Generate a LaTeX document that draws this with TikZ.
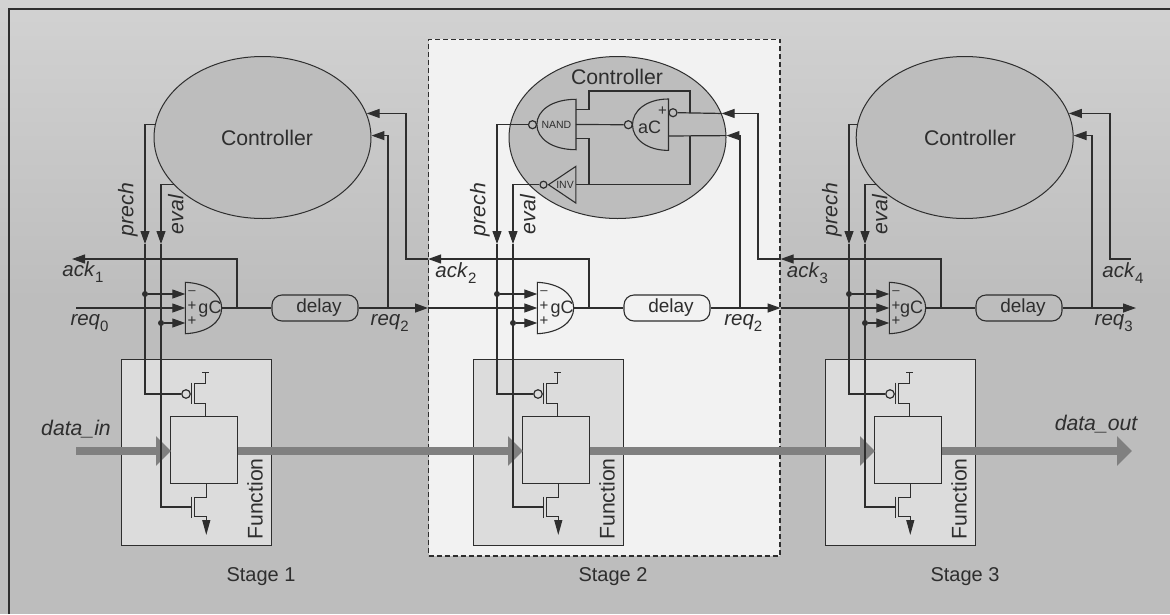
\documentclass[tikz,border=0pt]{standalone}
\usepackage{fontspec}
\setmainfont{Liberation Sans}
\usepackage{xcolor}
\usetikzlibrary{arrows.meta, shapes.geometric}
\definecolor{custom_ink}{HTML}{2E2E2E}
\definecolor{custom_back}{HTML}{BDBDBD}
\definecolor{custom_top}{HTML}{D2D2D2}
\definecolor{custom_panel}{HTML}{F2F2F2}
\definecolor{custom_func}{HTML}{DCDCDC}
\definecolor{custom_bus}{HTML}{808080}
\newcommand{\sigsub}[2]{{\fontsize{20.5}{20.5}\selectfont\textit{#1}}\raisebox{-0.3em}{\fontsize{15}{15}\selectfont #2}}
\tikzset{
  wire/.style={draw=custom_ink, line width=1.2pt},
  arrowwire/.style={wire, -{Triangle[length=13pt,width=9pt]}},
  controller/.style={ellipse, draw=custom_ink, line width=1pt, fill=custom_back, inner sep=0pt, minimum width=217pt, minimum height=162pt},
  sigtext/.style={font=\fontsize{21.2}{21.2}\selectfont, text=custom_ink, inner sep=0pt},
  smalltext/.style={font=\fontsize{10.5}{11}\selectfont, text=custom_ink, inner sep=0pt},
  delaybox/.style={wire, line width=1.1pt, rounded corners=10pt, minimum width=86pt, minimum height=26pt, inner sep=0pt, font=\fontsize{19}{19}\selectfont, text=custom_ink},
  funcbox/.style={wire, line width=1.1pt, fill=custom_func, inner sep=0pt},
  hollow/.style={circle, wire, inner sep=0pt, minimum size=8pt},
  dotnode/.style={circle, fill=custom_ink, inner sep=0pt, minimum size=6pt},
  gatebox/.style={inner sep=0pt, minimum width=36pt, minimum height=51pt},
  bus/.style={draw=custom_bus, line width=8pt, -{Triangle[length=15pt,width=29pt]}, custom_bus}
}
\begin{document}
\begin{tikzpicture}[x=1pt, y=-1pt]
    \useasboundingbox (0,0) rectangle (1170,614);

    % Draw background and frame
    \shade[top color=custom_top, bottom color=custom_back] (0,0) rectangle (1170,300);
    \fill[custom_back] (0,300) rectangle (1170,614);
    \draw[custom_ink, line width=2pt] (9,614) -- (9,9) -- (1170,9);
    \node[draw=custom_ink, fill=custom_panel, line width=1.2pt, dash pattern=on 5pt off 3pt, inner sep=0pt, minimum width=351.3pt, minimum height=516.7pt] (panel) at (604.35,297.65) {};

    % Draw the parts every stage has
    \foreach \n/\dx/\gx/\cx in {1/0/24.5/262.5, 2/352/24.5/265.5, 3/704/22/260.7}{
      \begin{scope}[xshift=\dx pt]
        \node[funcbox, minimum width=149.6pt, minimum height=185.7pt] (fn\n) at (196.5,452.2) {};
        \node[funcbox, minimum width=67pt, minimum height=67.3pt] (core\n) at (204.2,449.7) {};
        \node[sigtext, rotate=90] (fnlabel\n) at (255,499) {Function};
        \node[sigtext, font=\fontsize{20}{20}\selectfont] (stage\n) at (261,577) {Stage \n};
        \node[controller] (ctrl\n) at (\cx,137.5) {};
        \node[gatebox] (gate\n) at (203.5,308) {};
        \draw[wire, line width=1.1pt] (gate\n.north west) .. controls +(22,1) and +(0,-14) .. (gate\n.east) .. controls +(0,14) and +(22,-1) .. (gate\n.south west) -- cycle;
        \node[smalltext, font=\fontsize{18}{18}\selectfont] (gatetext\n) at (185.5+\gx,309) {gC};
        \node[smalltext, font=\fontsize{13}{13}\selectfont] (minus\n) at (192,293) {--};
        \node[smalltext, font=\fontsize{15}{15}\selectfont] (plusa\n) at (192,306) {+};
        \node[smalltext, font=\fontsize{15}{15}\selectfont] (plusb\n) at (192,321) {+};
        \node[delaybox] (delay\n) at (315,308) {\hspace*{8pt}delay};
        \node[sigtext, rotate=90] (prechlabel\n) at (128,209.7) {\itshape prech};
        \node[sigtext, rotate=90] (evallabel\n) at (175.7,214.7) {\itshape eval};
        \node[dotnode] (dota\n) at (145,294) {};
        \node[dotnode] (dotb\n) at (161,323) {};
        \node[hollow, minimum size=8.5pt] (pbub\n) at (186,394) {};
        \coordinate (prechtip\n) at (145,244);
        \coordinate (evaltip\n) at (161,244);
        \coordinate (ackbr\n) at (237,308);
        \coordinate (branch\n) at (388,308);
        \coordinate (ackturn\n) at (406,259);
        \coordinate (busin\n) at (171,451);
        \coordinate (busout\n) at (237.7,451);
        \coordinate (nin\n) at (191.7,507);

        % Transistors above and below the function block
        \draw[wire, line width=1.1pt] (pbub\n.east) -- (191.3,394);
        \draw[wire, line width=1.1pt] (191.3,382.7) -- (191.3,404);
        \draw[wire, line width=1.1pt] (202,372.3) -- (209,372.3);
        \draw[wire, line width=1.1pt] (205.7,372.3) -- (205.7,383.7) -- (194.7,383.7) -- (194.7,403.5) -- (205.7,403.5) -- (205.7,416);
        \draw[wire, line width=1.1pt] (206.3,483.3) -- (206.3,497.3) -- (194.7,497.3) -- (194.7,516.7) -- (206.3,516.7) -- (206.3,520);
        \draw[wire, line width=1.1pt] (191.7,496.7) -- (191.7,517.7);
        \draw[wire, line width=1.1pt, -{Triangle[length=15pt,width=8pt]}] (206.3,520) -- (206.3,535);
      \end{scope}
    }

    % Draw the data path
    \coordinate (datain) at (76,451);
    \coordinate (dataout) at (1132,451);
    \draw[bus] (datain) -- (busin1);
    \draw[bus] (busout1) -- (busin2);
    \draw[bus] (busout2) -- (busin3);
    \draw[bus] (busout3) -- (dataout);

    % Draw gates inside the middle controller
    \node[sigtext] (ctrllabel2) at (617,77) {Controller};
    \node[sigtext] (ctrllabel1) at (267,137.5) {Controller};
    \node[sigtext] (ctrllabel3) at (970,137.5) {Controller};
    \node[gatebox, minimum width=38.7pt, minimum height=50pt, smalltext] (nand) at (556.4,124.5) {NAND};
    \draw[wire, line width=1.1pt] (nand.north east) .. controls +(-24,0) and +(0,-14) .. (nand.west) .. controls +(0,14) and +(-24,0) .. (nand.south east) -- cycle;
    \node[hollow] (nandbub) at (532.5,124.7) {};
    \node[gatebox, minimum width=35.6pt, minimum height=51pt] (aC) at (650.5,124.7) {};
    \draw[wire, line width=1.1pt] (aC.north east) .. controls +(-22,0) and +(0,-14) .. (aC.west) .. controls +(0,14) and +(-22,0) .. (aC.south east) -- cycle;
    \node[sigtext, font=\fontsize{18}{18}\selectfont] (aCtext) at (649.5,127.5) {aC};
    \node[smalltext, font=\fontsize{15}{15}\selectfont] (aCplus) at (662.5,111.5) {+};
    \node[hollow] (aCin) at (628.3,124.7) {};
    \node[hollow] (aCout) at (673,112.7) {};
    \node[inner sep=0pt, minimum width=27pt, minimum height=36.3pt] (inv) at (562.2,184.7) {};
    \draw[wire, line width=1.1pt] (inv.west) -- (inv.north east) -- (inv.south east) -- cycle;
    \node[smalltext] (invtext) at (565,185) {INV};
    \node[hollow, minimum size=7pt] (invbub) at (543.5,184.7) {};

    % Wire the gates together
    \coordinate (nandhi) at (575.7,109.3);
    \coordinate (nandlo) at (575.7,138.3);
    \coordinate (aCjoin) at (690,112.7);
    \coordinate (aClow) at (668.3,136);
    \coordinate (aCjoinb) at (690,136);
    \coordinate (invjoin) at (690,184.7);
    \draw[wire] (nand.east) -- (aCin.west);
    \draw[wire] (nandhi) -- (589,109.3) -- (589,91) -- (690,91) -- (aCjoin);
    \draw[wire] (nandlo) -- (589,138.3) -- (589,184.7);
    \draw[wire] (aCjoinb) -- (invjoin) -- (inv.east);
    \draw[wire] (aCout.east) -- (ctrl2.13.6);
    \draw[wire] (aClow) -- (ctrl2.1);

    % Connect the controllers to the gates and transistors
    \coordinate (prechsrc1) at (ctrl1.173);
    \coordinate (prechsrc2) at (nandbub.west);
    \coordinate (prechsrc3) at (ctrl3.173);
    \coordinate (evalsrc1) at (ctrl1.208.2);
    \coordinate (evalsrc2) at (invbub.west);
    \coordinate (evalsrc3) at (ctrl3.208.2);
    \foreach \n in {1,2,3}{
      \draw[arrowwire] (prechsrc\n) -| (prechtip\n);
      \draw[arrowwire] (evalsrc\n) -| (evaltip\n);
      \draw[wire] (prechtip\n) |- (pbub\n.west);
      \draw[wire] (evaltip\n) |- (nin\n);
      \draw[arrowwire] (dota\n) -- (dota\n -| gate\n.west);
      \draw[arrowwire] (dotb\n) -- (dotb\n -| gate\n.west);
      \draw[wire] (gate\n.east) -- (delay\n.west);
      \draw[arrowwire] (branch\n) |- (ctrl\n.1);
    }

    % Request line from stage to stage
    \coordinate (reqin) at (76,308);
    \coordinate (reqtip1) at (panel.west |- reqin);
    \coordinate (reqtip2) at (panel.east |- reqin);
    \coordinate (reqout) at (1136,308);
    \draw[arrowwire] (reqin) -- (gate1.west);
    \draw[arrowwire] (delay1.east) -- (reqtip1);
    \draw[arrowwire] (reqtip1) -- (gate2.west);
    \draw[arrowwire] (delay2.east) -- (reqtip2);
    \draw[arrowwire] (reqtip2) -- (gate3.west);
    \draw[arrowwire] (delay3.east) -- (reqout);

    % Acknowledge line from stage to stage
    \coordinate (acktip1) at (72,259);
    \coordinate (acktip2) at (panel.west |- acktip1);
    \coordinate (acktip3) at (panel.east |- acktip1);
    \coordinate (ackin4) at (1130.7,259);
    \draw[arrowwire] (ackbr1) |- (acktip1);
    \draw[arrowwire] (ackbr2) |- (acktip2);
    \draw[arrowwire] (ackbr3) |- (acktip3);
    \draw[arrowwire] (acktip2) -- (ackturn1) |- (ctrl1.13.6);
    \draw[arrowwire] (acktip3) -- (ackturn2) |- (ctrl2.13.6);
    \draw[arrowwire] (ackin4) -- (ackturn3) |- (ctrl3.13.6);

    % Label the signals
    \node[sigtext] (ack1) at (83,272) {\sigsub{ack}{1}};
    \node[sigtext] (ack2) at (456,273) {\sigsub{ack}{2}};
    \node[sigtext] (ack3) at (807.5,273) {\sigsub{ack}{3}};
    \node[sigtext] (ack4) at (1123,273) {\sigsub{ack}{4}};
    \node[sigtext] (req0) at (89.5,323) {\sigsub{req}{0}};
    \node[sigtext] (req2a) at (389.7,323) {\sigsub{req}{2}};
    \node[sigtext] (req2b) at (743.3,323) {\sigsub{req}{2}};
    \node[sigtext] (req3) at (1113.7,323) {\sigsub{req}{3}};
    \node[sigtext] (datainlabel) at (76,429) {\itshape data\_in};
    \node[sigtext] (dataoutlabel) at (1096,424) {\itshape data\_out};
\end{tikzpicture}
\end{document}
